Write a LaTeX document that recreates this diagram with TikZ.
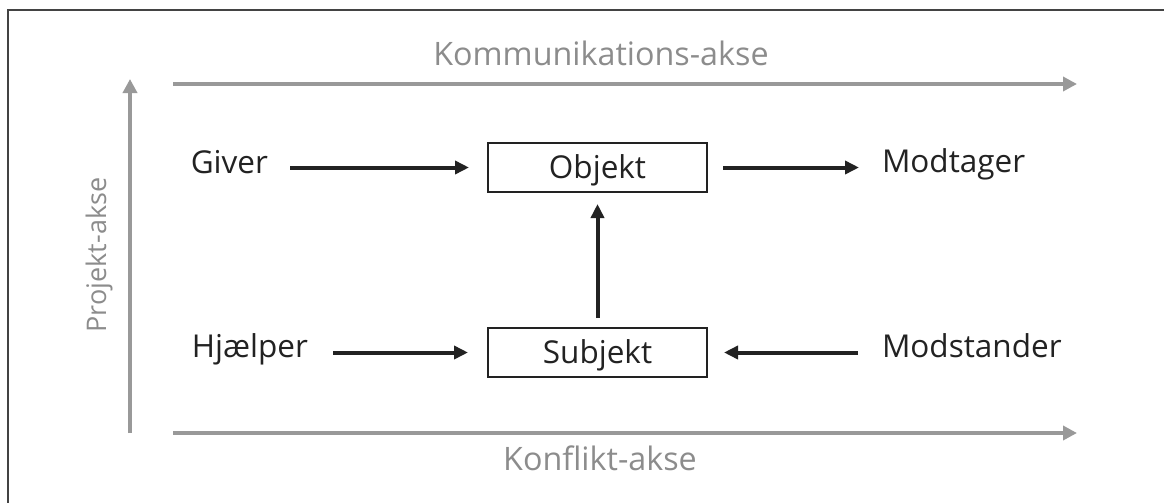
\documentclass[tikz,border=0pt]{standalone}
\usepackage{fontspec}
\setmainfont{Open Sans}
\usetikzlibrary{arrows.meta}
\definecolor{axisgray}{HTML}{999999}
\definecolor{labgray}{HTML}{8C8C8C}
\definecolor{ink}{HTML}{222222}
\tikzset{
  lab/.style={font=\fontsize{31.5}{33}\selectfont, text=ink, inner sep=0pt, outer sep=0pt},
  axlab/.style={font=\fontsize{32.3}{34}\selectfont, text=labgray, inner sep=0pt},
  box/.style={draw=ink, line width=1.5pt, minimum width=219pt, minimum height=49pt, inner sep=0pt, outer sep=0pt, font=\fontsize{31.5}{33}\selectfont, text=ink, text height=22pt, text depth=0pt},
  blk/.style={draw=ink, line width=4pt, -{Triangle[length=14pt,width=13pt]}},
  gry/.style={draw=axisgray, line width=4pt, -{Triangle[length=14pt,width=14pt]}}
}
\begin{document}
\begin{tikzpicture}[x=1pt,y=-1pt]
\useasboundingbox (0,0) rectangle (1164,503);
\draw[line width=1.5pt, draw=ink!85] (8,503) -- (8,10) -- (1164,10);
% axes
\coordinate (vb) at (130,433);
\coordinate (vt) at (130,79);
\coordinate (tl) at (173,84);
\coordinate (tr) at (1077,84);
\coordinate (bl) at (173,433);
\coordinate (br) at (1077,433);
\draw[gry] (vb) -- (vt);
\draw[gry] (tl) -- (tr);
\draw[gry] (bl) -- (br);
\node[axlab, anchor=base] (kom) at (601,66) {Kommunikations-akse};
\node[axlab, anchor=base] (konf) at (600,470) {Konflikt-akse};
\node[axlab, rotate=90, anchor=base, font=\fontsize{27}{29}\selectfont] (proj) at (106,255) {Projekt-akse};
% boxes
\node[box] (obj) at (597.5,167.5) {Objekt};
\node[box] (sub) at (597.5,352.5) {Subjekt};
% labels
\node[lab, anchor=base east] (giv) at (268,173) {Giver};
\node[lab, anchor=base east] (hjae) at (308,357) {Hjælper};
\node[lab, anchor=base west] (modt) at (882,172) {Modtager};
\node[lab, anchor=base west] (mods) at (882,357) {Modstander};
% connectors
\draw[blk, shorten <=22pt, shorten >=19pt] (giv.east |- obj.west) -- (obj.west);
\draw[blk, shorten <=25pt, shorten >=20pt] (hjae.east |- sub.west) -- (sub.west);
\draw[blk, shorten <=16pt, shorten >=23pt] (obj.east) -- (modt.west |- obj.east);
\draw[blk, shorten <=24pt, shorten >=17pt] (mods.west |- sub.east) -- (sub.east);
\draw[blk, shorten <=10pt, shorten >=12pt] (sub.north) -- (obj.south);
\end{tikzpicture}
\end{document}
